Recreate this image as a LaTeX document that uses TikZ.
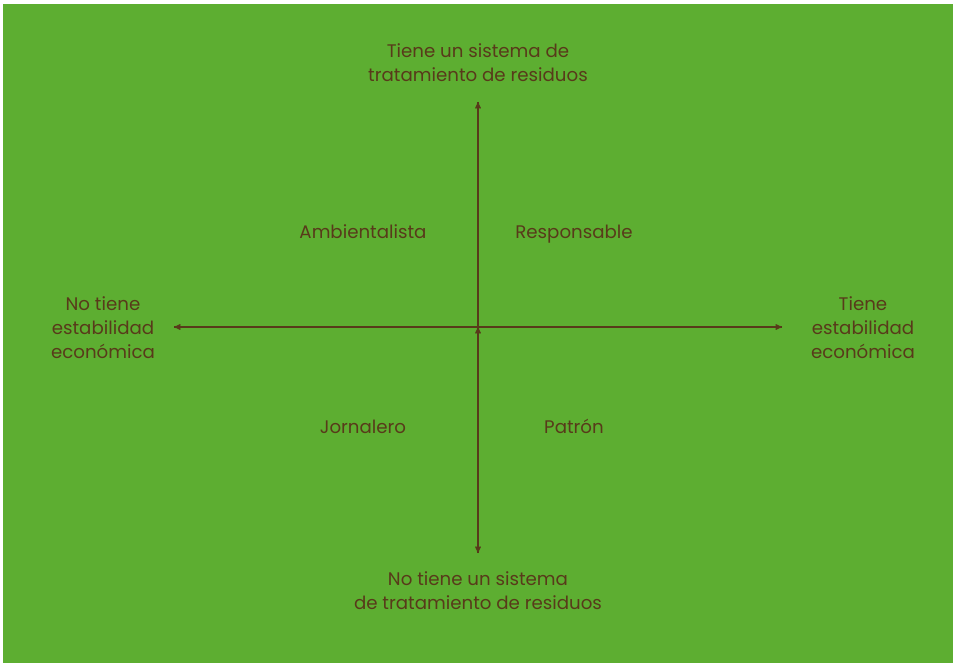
\documentclass[tikz,border=0pt]{standalone}
\usepackage{fontspec}
\setmainfont{Poppins}
\usepackage{xcolor}
\usetikzlibrary{arrows}

\definecolor{fondo}{HTML}{5DAE31}
\definecolor{cafe}{HTML}{583A1A}

\begin{document}
\begin{tikzpicture}[x=1pt,y=-1pt,
  etiqueta/.style={text=cafe, align=center, font=\fontsize{18.2}{24}\selectfont, inner sep=0pt},
  eje/.style={draw=cafe, line width=1.3pt, ->, >=stealth'}]
\fill[white] (0,0) rectangle (953,663);
\fill[fondo] (3,4) rectangle (953,663);

\node[etiqueta]   (T) at (478,63)   {Tiene un sistema de\\tratamiento de residuos};
\node[etiqueta]   (B) at (478,591)  {No tiene un sistema\\de tratamiento de residuos};
\node[etiqueta]   (L) at (103,328)  {No tiene\\estabilidad\\económica};
\node[etiqueta]   (R) at (863,328)  {Tiene\\estabilidad\\económica};

\node[etiqueta, anchor=base]   (amb) at (363,238) {Ambientalista};
\node[etiqueta, anchor=base]   (res) at (574,238) {Responsable};
\node[etiqueta, anchor=base]   (jor) at (363,433) {Jornalero};
\node[etiqueta, anchor=base]   (pat) at (574,433) {Patrón};

\coordinate (c)  at (478,327);
\coordinate (ar) at (478,102);
\coordinate (ab) at (478,553);
\coordinate (iz) at (174,327);
\coordinate (de) at (782,327);

\draw[draw=cafe, line width=1.3pt] (ab) -- (ar) (iz) -- (de);
\path[eje, shorten <=-1pt]
    (c) edge (ar)
    (c) edge (ab)
    (c) edge (iz)
    (c) edge (de);

\end{tikzpicture}
\end{document}
